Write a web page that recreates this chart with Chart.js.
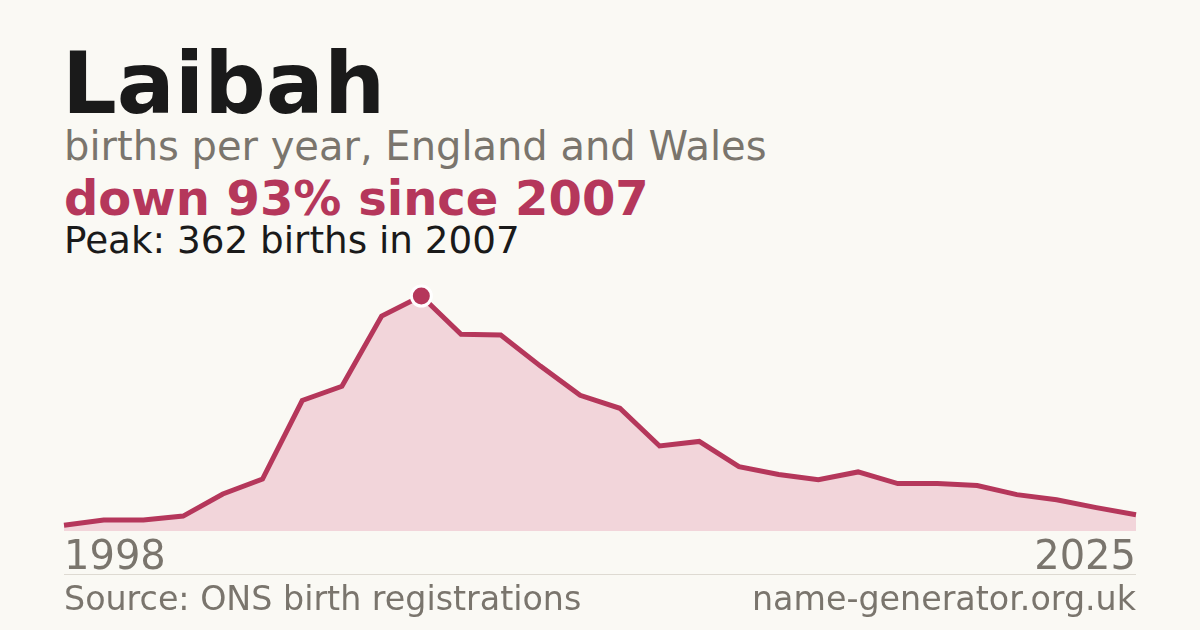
<!DOCTYPE html>
<html>
<head>
<meta charset="utf-8">
<script src="https://cdn.jsdelivr.net/npm/chart.js@4/dist/chart.umd.min.js"></script>
<style>
  html, body { margin:0; padding:0; }
  body { width:1200px; height:630px; background:#faf9f4; position:relative; overflow:hidden;
         font-family:"DejaVu Sans", sans-serif; }
  .txt { position:absolute; line-height:1; white-space:nowrap; }
  #title { left:62px; top:40px; font-size:86px; font-weight:bold; color:#1a1a1a; }
  #sub { left:64px; top:126px; font-size:40px; color:#7a756d; }
  #change { left:64px; top:174px; font-size:48px; font-weight:bold; color:#b5375b; }
  #peak { left:64px; top:222px; font-size:37.3px; color:#1a1a1a; }
  #rule { position:absolute; left:64px; width:1072px; top:574px; height:1px; background:#dedad2; }
  #source { left:64px; top:582px; font-size:33.3px; color:#7a756d; }
  #site { right:64px; top:582px; font-size:33.3px; color:#7a756d; }
  #wrap { position:absolute; left:0; top:0; width:1200px; height:630px; }
</style>
</head>
<body>
<div class="txt" id="title">Laibah</div>
<div class="txt" id="sub">births per year, England and Wales</div>
<div class="txt" id="change"></div>
<div class="txt" id="peak"></div>
<div id="wrap"><canvas id="chart"></canvas></div>
<div id="rule"></div>
<div class="txt" id="source">Source: ONS birth registrations</div>
<div class="txt" id="site">name-generator.org.uk</div>
<script>
const years = ["1998","1999","2000","2001","2002","2003","2004","2005","2006","2007",
               "2008","2009","2010","2011","2012","2013","2014","2015","2016","2017",
               "2018","2019","2020","2021","2022","2023","2024","2025"];
const births = [9, 17, 17, 23, 57, 80, 201, 223, 331, 362,
                303, 302, 254, 209, 189, 131, 138, 99, 87, 79,
                91, 73, 73, 70, 56, 48, 36, 25];

const peakValue = Math.max(...births);
const peakIndex = births.indexOf(peakValue);
const lastValue = births[births.length - 1];
const drop = Math.round((1 - lastValue / peakValue) * 100);

document.getElementById("change").textContent = `down ${drop}% since ${years[peakIndex]}`;
document.getElementById("peak").textContent = `Peak: ${peakValue} births in ${years[peakIndex]}`;

const crimson = "#b5375b";

new Chart(document.getElementById("chart"), {
    type: "line",
    data: {
        labels: years,
        datasets: [{
            data: births,
            clip: false,
            borderColor: crimson,
            borderWidth: 5,
            backgroundColor: "#f2d5da",
            fill: "origin",
            tension: 0,
            pointRadius: ctx => ctx.dataIndex === peakIndex ? 10 : 0,
            pointHoverRadius: 0,
            pointBackgroundColor: crimson,
            pointBorderColor: "#ffffff",
            pointBorderWidth: 3
        }]
    },
    options: {
        responsive: true,
        maintainAspectRatio: false,
        animation: false,
        events: [],
        layout: { padding: { left: 64, right: 64, top: 296, bottom: 43 } },
        plugins: { legend: { display: false }, tooltip: { enabled: false } },
        scales: {
            x: {
                grid: { display: false, drawTicks: false },
                border: { display: false },
                ticks: {
                    autoSkip: false,
                    maxRotation: 0,
                    align: "inner",
                    padding: 4,
                    color: "#7a756d",
                    font: { family: "DejaVu Sans", size: 40 },
                    callback: (v, i) => (i === 0 || i === years.length - 1) ? years[i] : ""
                }
            },
            y: { display: false, min: 0, max: peakValue }
        }
    }
});
</script>
</body>
</html>
